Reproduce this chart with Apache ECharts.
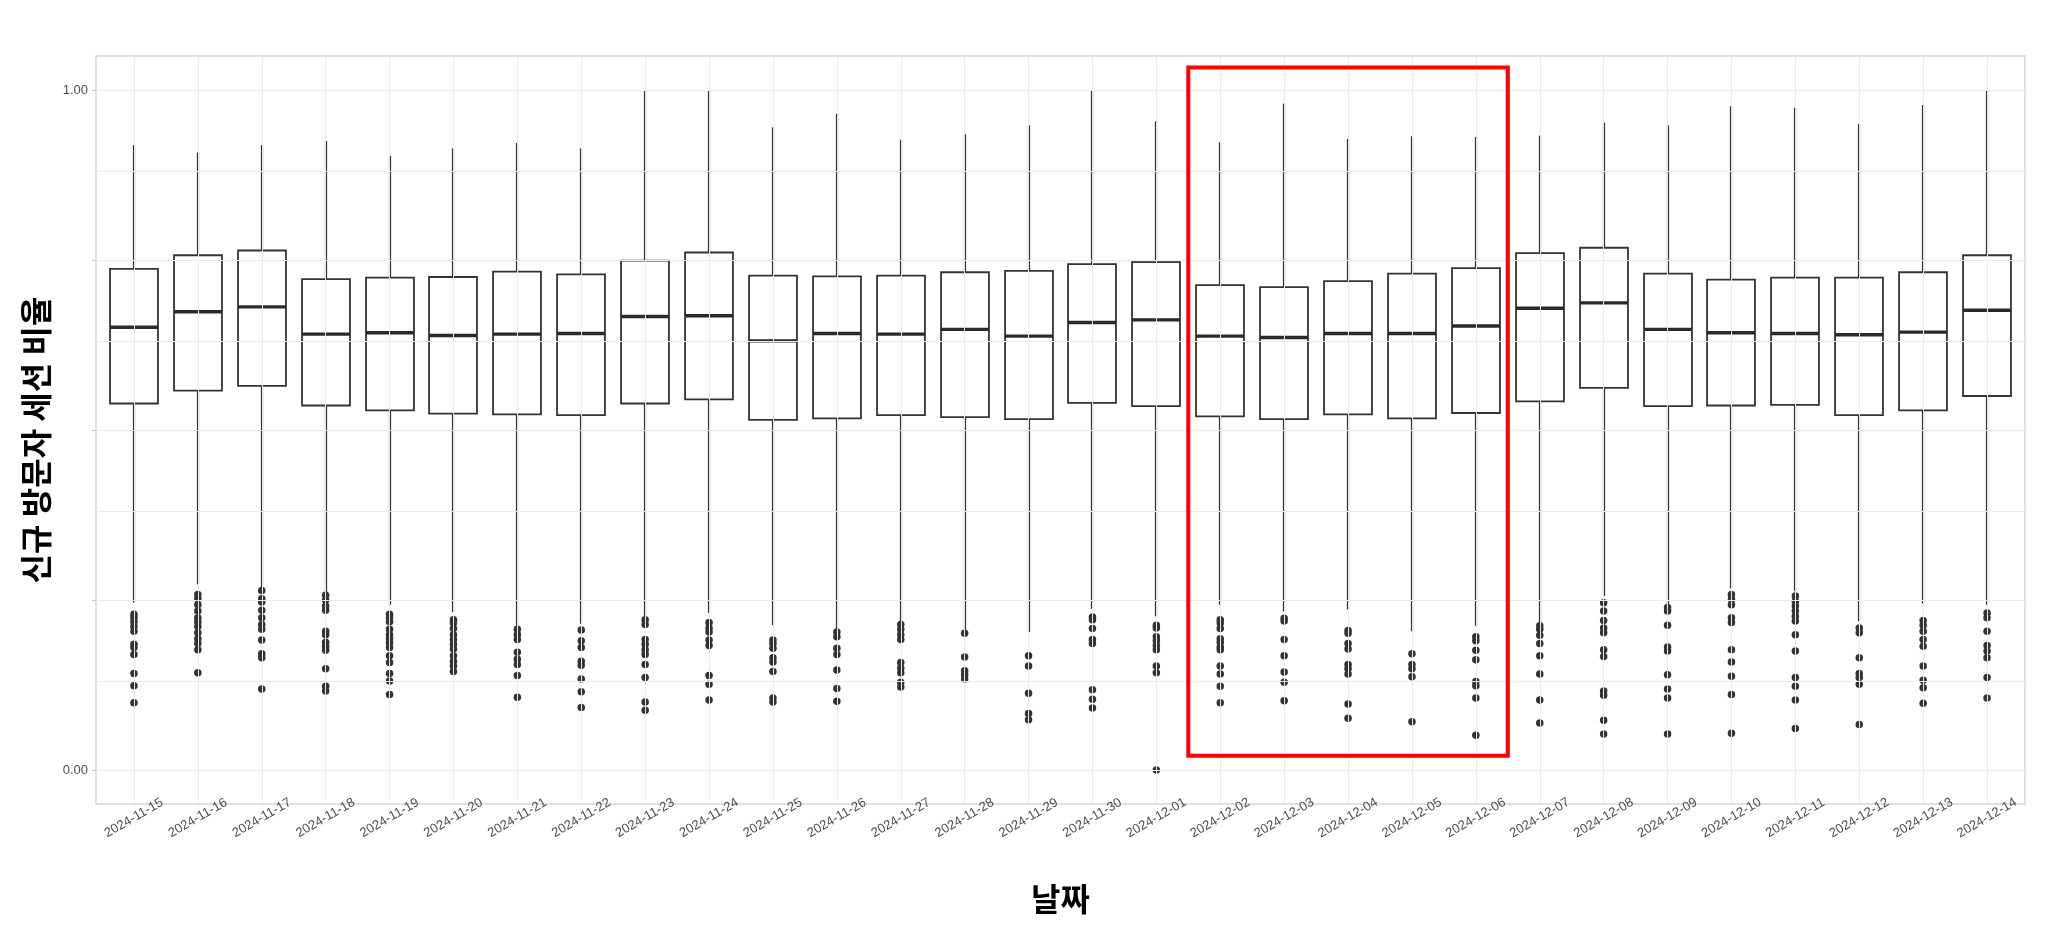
<!DOCTYPE html>
<html>
<head>
<meta charset="utf-8">
<script src="https://cdn.jsdelivr.net/npm/echarts@6/dist/echarts.min.js"></script>
<style>
html,body{margin:0;padding:0;background:#ffffff;}
#chart{width:2048px;height:937px;}
</style>
</head>
<body>
<div id="chart"></div>
<script>
// ---------------- DATA ----------------
const dates = [
  '2024-11-15','2024-11-16','2024-11-17','2024-11-18','2024-11-19','2024-11-20',
  '2024-11-21','2024-11-22','2024-11-23','2024-11-24','2024-11-25','2024-11-26',
  '2024-11-27','2024-11-28','2024-11-29','2024-11-30','2024-12-01','2024-12-02',
  '2024-12-03','2024-12-04','2024-12-05','2024-12-06','2024-12-07','2024-12-08',
  '2024-12-09','2024-12-10','2024-12-11','2024-12-12','2024-12-13','2024-12-14'
];
const whiskerLow = [
  0.246,0.273,0.269,0.261,0.243,0.232,0.212,0.215,0.226,0.231,
  0.213,0.207,0.219,0.204,0.203,0.237,0.226,0.243,0.233,0.236,
  0.204,0.212,0.217,0.256,0.243,0.267,0.263,0.219,0.245,0.243
];
const q1 = [
  0.539,0.558,0.565,0.536,0.529,0.524,0.523,0.522,0.539,0.545,
  0.515,0.517,0.522,0.519,0.516,0.540,0.535,0.520,0.516,0.523,
  0.517,0.525,0.542,0.562,0.535,0.536,0.537,0.522,0.529,0.550
];
const median = [
  0.651,0.674,0.681,0.641,0.643,0.639,0.641,0.642,0.667,0.668,
  0.631,0.642,0.641,0.648,0.638,0.658,0.662,0.638,0.636,0.642,
  0.642,0.653,0.679,0.687,0.648,0.643,0.642,0.640,0.644,0.676
];
const q3 = [
  0.737,0.757,0.764,0.722,0.724,0.725,0.733,0.729,0.749,0.761,
  0.727,0.726,0.727,0.732,0.734,0.744,0.747,0.713,0.710,0.719,
  0.730,0.738,0.760,0.768,0.730,0.721,0.724,0.724,0.732,0.757
];
const whiskerHigh = [
  0.919,0.908,0.919,0.925,0.903,0.914,0.922,0.914,1.000,1.000,
  0.945,0.965,0.927,0.935,0.948,1.000,0.954,0.923,0.980,0.928,
  0.932,0.931,0.933,0.952,0.948,0.976,0.974,0.950,0.978,1.000
];
const outliers = [
  [0.229,0.224,0.218,0.211,0.204,0.185,0.180,0.170,0.142,0.124,0.099],
  [0.258,0.252,0.243,0.234,0.224,0.218,0.211,0.202,0.193,0.186,0.177,0.143],
  [0.264,0.252,0.247,0.235,0.224,0.214,0.207,0.191,0.171,0.165,0.119],
  [0.257,0.250,0.241,0.235,0.204,0.199,0.188,0.182,0.176,0.149,0.123,0.116],
  [0.229,0.224,0.218,0.207,0.199,0.193,0.187,0.180,0.168,0.158,0.142,0.131,0.111],
  [0.221,0.216,0.208,0.199,0.192,0.185,0.178,0.168,0.160,0.153,0.145],
  [0.207,0.199,0.192,0.173,0.163,0.155,0.139,0.107],
  [0.206,0.190,0.180,0.160,0.154,0.134,0.115,0.092],
  [0.221,0.214,0.192,0.185,0.177,0.170,0.155,0.136,0.100,0.088],
  [0.217,0.209,0.203,0.191,0.183,0.139,0.126,0.103],
  [0.191,0.186,0.179,0.165,0.159,0.145,0.106,0.100],
  [0.203,0.196,0.179,0.170,0.147,0.120,0.101],
  [0.214,0.207,0.199,0.192,0.158,0.150,0.143,0.129,0.122],
  [0.201,0.166,0.146,0.140,0.134],
  [0.168,0.153,0.113,0.083,0.074],
  [0.225,0.221,0.208,0.192,0.186,0.118,0.104,0.091],
  [0.213,0.209,0.196,0.190,0.183,0.177,0.153,0.143,0.000],
  [0.221,0.216,0.208,0.193,0.188,0.181,0.177,0.153,0.141,0.123,0.099],
  [0.223,0.219,0.192,0.168,0.144,0.129,0.102],
  [0.205,0.201,0.186,0.178,0.155,0.149,0.141,0.097,0.076],
  [0.171,0.155,0.149,0.137,0.071],
  [0.196,0.190,0.176,0.162,0.130,0.124,0.106,0.051],
  [0.212,0.207,0.198,0.186,0.168,0.141,0.103,0.069],
  [0.246,0.234,0.220,0.209,0.202,0.177,0.167,0.116,0.110,0.073,0.053],
  [0.239,0.234,0.213,0.181,0.175,0.140,0.119,0.106,0.053],
  [0.258,0.251,0.243,0.224,0.217,0.177,0.159,0.138,0.111,0.054],
  [0.256,0.248,0.241,0.234,0.226,0.219,0.199,0.175,0.136,0.123,0.103,0.061],
  [0.209,0.202,0.165,0.142,0.136,0.126,0.067],
  [0.220,0.213,0.204,0.192,0.182,0.153,0.132,0.121,0.098],
  [0.231,0.224,0.204,0.183,0.175,0.165,0.136,0.106]
];
const yLabelValues = [0, 1];
const yTickValues = [0, 0.25, 0.5, 0.75, 1];
const yGridValues = [0, 0.125, 0.25, 0.375, 0.5, 0.625, 0.75, 0.875, 1];
const yTitle = '신규 방문자 세션 비율';
const xTitle = '날짜';
const highlightStart = '2024-12-02';
const highlightEnd = '2024-12-06';
const highlightTop = 1.033;
const highlightBottom = 0.021;

// ---------------- CHART ----------------
const Y_MIN = -0.05, Y_MAX = 1.05;
const BOX_FRACTION = 0.75;
const INK = '#333333';

const boxData = dates.map((d, i) => [i, whiskerLow[i], q1[i], median[i], q3[i], whiskerHigh[i]]);
const outlierData = [];
dates.forEach((d, i) => outliers[i].forEach(v => outlierData.push([d, v])));

const chart = echarts.init(document.getElementById('chart'), null, { renderer: 'canvas' });

const option = {
  animation: false,
  backgroundColor: '#ffffff',
  grid: [
    { left: 102, right: 29, top: 56, bottom: 133, show: false },
    { left: 96, right: 23, top: 56, bottom: 133, show: true,
      borderColor: '#d6d6d6', borderWidth: 1.5, backgroundColor: 'transparent' }
  ],
  xAxis: [
    {
      type: 'category', gridIndex: 0, data: dates, boundaryGap: true,
      axisLine: { show: false }, axisTick: { show: false }, splitLine: { show: false },
      axisLabel: {
        interval: 0, rotate: 30, align: 'center', verticalAlign: 'middle', margin: 14,
        color: '#4d4d4d', fontSize: 13, fontFamily: 'Liberation Sans, Arial, sans-serif',
        hideOverlap: false
      },
      name: xTitle, nameLocation: 'middle', nameGap: 79,
      nameTextStyle: { color: '#000', fontSize: 32, fontWeight: 'bold',
        fontFamily: '"Noto Sans CJK KR", sans-serif' }
    },
    { type: 'value', gridIndex: 1, min: 0, max: 1, show: false }
  ],
  yAxis: [
    { type: 'value', gridIndex: 0, min: Y_MIN, max: Y_MAX, show: false },
    {
      type: 'value', gridIndex: 1, min: Y_MIN, max: Y_MAX,
      axisLine: { show: false }, splitLine: { show: false },
      axisTick: { show: true, length: 4, lineStyle: { color: '#cccccc' }, customValues: yTickValues },
      axisLabel: {
        customValues: yLabelValues, margin: 8, color: '#4d4d4d', fontSize: 13,
        fontFamily: 'Liberation Sans, Arial, sans-serif',
        formatter: v => Number(v).toFixed(2)
      },
      name: yTitle, nameLocation: 'middle', nameGap: 39, nameRotate: 90,
      nameTextStyle: { color: '#000', fontSize: 32, fontWeight: 'bold',
        fontFamily: '"Noto Sans CJK KR", sans-serif', padding: [0, 20, 0, 0] }
    }
  ],
  series: [
    {
      name: 'hgrid', type: 'line', xAxisIndex: 1, yAxisIndex: 1, data: [], z: 1,
      markLine: {
        silent: true, symbol: ['none', 'none'], animation: false,
        label: { show: false },
        lineStyle: { color: '#ebebeb', width: 1, type: 'solid' },
        emphasis: { disabled: true },
        data: yGridValues.map(v => ({ yAxis: v }))
      }
    },
    {
      name: 'vgrid', type: 'line', xAxisIndex: 0, yAxisIndex: 0, data: [], z: 1,
      markLine: {
        silent: true, symbol: ['none', 'none'], animation: false,
        label: { show: false },
        lineStyle: { color: '#ebebeb', width: 1, type: 'solid' },
        emphasis: { disabled: true },
        data: dates.map(d => ({ xAxis: d }))
      }
    },
    {
      name: 'box', type: 'custom', xAxisIndex: 0, yAxisIndex: 0, z: 3,
      data: boxData,
      encode: { x: 0, y: [1, 2, 3, 4, 5] },
      renderItem: function (params, api) {
        const x = api.value(0);
        const pLow = api.coord([x, api.value(1)]);
        const pQ1 = api.coord([x, api.value(2)]);
        const pMed = api.coord([x, api.value(3)]);
        const pQ3 = api.coord([x, api.value(4)]);
        const pHigh = api.coord([x, api.value(5)]);
        const bw = api.size([1, 0])[0] * BOX_FRACTION;
        const cx = Math.round(pQ1[0]);
        const lw = 1.8;
        return {
          type: 'group',
          children: [
            { type: 'line', shape: { x1: cx, y1: pHigh[1], x2: cx, y2: pQ3[1] },
              style: { stroke: '#2e2e2e', lineWidth: 2.2 } },
            { type: 'line', shape: { x1: cx, y1: pQ1[1], x2: cx, y2: pLow[1] },
              style: { stroke: '#2e2e2e', lineWidth: 2.2 } },
            { type: 'rect', shape: { x: cx - bw / 2, y: pQ3[1], width: bw, height: pQ1[1] - pQ3[1] },
              style: { fill: '#ffffff', stroke: INK, lineWidth: lw } },
            { type: 'line', shape: { x1: cx - bw / 2, y1: pMed[1], x2: cx + bw / 2, y2: pMed[1] },
              style: { stroke: '#2a2a2a', lineWidth: 3.4 } }
          ]
        };
      }
    },
    {
      name: 'outliers', type: 'scatter', xAxisIndex: 0, yAxisIndex: 0, z: 4,
      data: outlierData, symbol: 'circle', symbolSize: 7.5,
      itemStyle: { color: INK, opacity: 1, borderWidth: 0 },
      emphasis: { disabled: true }
    }
  ]
};
chart.setOption(option);

// highlight rectangle around the chosen date range
const iS = dates.indexOf(highlightStart);
const iE = dates.indexOf(highlightEnd);
const pA = chart.convertToPixel({ xAxisIndex: 0, yAxisIndex: 0 }, [iS, highlightTop]);
const pB = chart.convertToPixel({ xAxisIndex: 0, yAxisIndex: 0 }, [iE, highlightBottom]);
const pN = chart.convertToPixel({ xAxisIndex: 0, yAxisIndex: 0 }, [iS + 1, highlightTop]);
const band = pN[0] - pA[0];
chart.setOption({
  graphic: [{
    type: 'rect', z: 100, silent: true,
    shape: { x: pA[0] - band / 2, y: pA[1], width: (pB[0] + band / 2) - (pA[0] - band / 2), height: pB[1] - pA[1] },
    style: { fill: 'none', stroke: '#ff0000', lineWidth: 4 }
  }]
});
</script>
</body>
</html>
